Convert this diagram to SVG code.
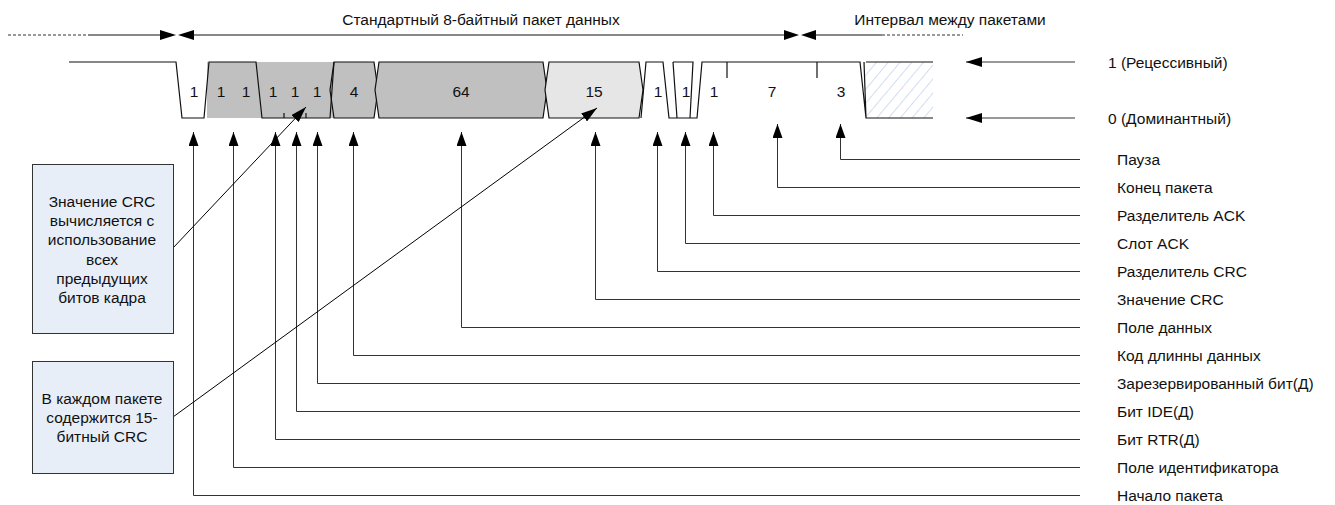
<svg xmlns="http://www.w3.org/2000/svg" width="1335" height="505" viewBox="0 0 1335 505">
<style>
text{font-family:"Liberation Sans",Arial,sans-serif;font-size:15.5px;fill:#111}
.c{text-anchor:middle}
.w{fill:none;stroke:#111;stroke-width:1.2}
.f{stroke:#111;stroke-width:1.2}
.dk{fill:#c0c0c0}
.lt{fill:#e6e6e6}
.conn{fill:none;stroke:#333;stroke-width:1}
.box{fill:#e8eef8;stroke:#333;stroke-width:1}
</style>
<defs>
<marker id="ah" viewBox="0 0 16 10" refX="16" refY="5" markerWidth="16" markerHeight="10" markerUnits="userSpaceOnUse" orient="auto"><path d="M0,0 L16,5 L0,10 z" fill="#000"/></marker>
<marker id="ah2" viewBox="0 0 14 10" refX="14" refY="5" markerWidth="14" markerHeight="10" markerUnits="userSpaceOnUse" orient="auto"><path d="M0,0 L14,5 L0,10 z" fill="#000"/></marker>
<pattern id="hatch" width="9" height="9" patternUnits="userSpaceOnUse" patternTransform="rotate(40)"><line x1="0" y1="0" x2="0" y2="9" stroke="#b4c6e7" stroke-width="1.2"/></pattern>
</defs>

<g id="header">
<line x1="8" y1="35" x2="88" y2="35" stroke="#333" stroke-dasharray="3,2"/>
<line x1="88" y1="35" x2="162" y2="35" stroke="#111"/>
<polygon points="160,30 176,35 160,40" fill="#000"/>
<polygon points="194,30 178,35 194,40" fill="#000"/>
<line x1="192" y1="35" x2="786" y2="35" stroke="#111"/>
<polygon points="784,30 799,35 784,40" fill="#000"/>
<polygon points="816,30 801,35 816,40" fill="#000"/>
<line x1="814" y1="35" x2="882" y2="35" stroke="#111"/>
<line x1="882" y1="35" x2="963" y2="35" stroke="#333" stroke-dasharray="3,2"/>
<text class="c" x="481" y="25">Стандартный 8-байтный пакет данных</text>
<text class="c" x="950" y="25">Интервал между пакетами</text>
</g>

<g id="waveform">
<rect x="207" y="62" width="127" height="56" fill="#c0c0c0"/>
<polygon points="864,62 933,62 933,118 866,118" fill="url(#hatch)"/>
<polygon class="f dk" points="334,62 374,62 378,90 374,118 334,118 330,90"/>
<polygon class="f dk" points="379,62 543,62 547,90 543,118 379,118 375,90"/>
<polygon class="f lt" points="549,62 639,62 643,90 639,118 549,118 545,90"/>
<path class="w" d="M69,62 H176 L182,118 H204 L209,62 H256 L262,118 H330 L334,62"/>
<path class="w" d="M284,118 V113 M306,118 V113"/>
<path class="w" d="M641,118 L646,62 H663 L669,118 H697 L702,62 H860 L866,118 H933 M866,62 H933 M864,62 L866,118"/>
<path class="w" d="M673,62 H693 L690,118 M673,62 L677,118"/>
<path class="w" d="M727,62 V78 M817,62 V78"/>
<text class="c" x="194" y="96.5">1</text>
<text class="c" x="221" y="96.5">1</text>
<text class="c" x="246" y="96.5">1</text>
<text class="c" x="273" y="96.5">1</text>
<text class="c" x="295" y="96.5">1</text>
<text class="c" x="317" y="96.5">1</text>
<text class="c" x="354" y="96.5">4</text>
<text class="c" x="461" y="96.5">64</text>
<text class="c" x="594" y="96.5">15</text>
<text class="c" x="658" y="96.5">1</text>
<text class="c" x="686" y="96.5">1</text>
<text class="c" x="714" y="96.5">1</text>
<text class="c" x="772" y="96.5">7</text>
<text class="c" x="841" y="96.5">3</text>
</g>

<g id="levels">
<line x1="1075" y1="62" x2="966" y2="62" stroke="#333" marker-end="url(#ah)"/>
<line x1="1075" y1="118" x2="966" y2="118" stroke="#333" marker-end="url(#ah)"/>
<text x="1108" y="67.5">1 (Рецессивный)</text>
<text x="1108" y="123.5">0 (Доминантный)</text>
</g>

<g id="connectors">
<path class="conn" d="M1080,159.5 H840.5 V124" marker-end="url(#ah2)"/>
<path class="conn" d="M1080,187.5 H777.5 V124" marker-end="url(#ah2)"/>
<path class="conn" d="M1080,215.5 H713.5 V132" marker-end="url(#ah2)"/>
<path class="conn" d="M1080,243.5 H685.5 V132" marker-end="url(#ah2)"/>
<path class="conn" d="M1080,271.5 H657.5 V132" marker-end="url(#ah2)"/>
<path class="conn" d="M1080,299.5 H595.5 V132" marker-end="url(#ah2)"/>
<path class="conn" d="M1080,327.5 H461.5 V132" marker-end="url(#ah2)"/>
<path class="conn" d="M1080,355.5 H353.5 V132" marker-end="url(#ah2)"/>
<path class="conn" d="M1080,383.5 H317.5 V132" marker-end="url(#ah2)"/>
<path class="conn" d="M1080,411.5 H296.5 V132" marker-end="url(#ah2)"/>
<path class="conn" d="M1080,439.5 H275.5 V132" marker-end="url(#ah2)"/>
<path class="conn" d="M1080,467.5 H233.5 V132" marker-end="url(#ah2)"/>
<path class="conn" d="M1080,495.5 H193.5 V132" marker-end="url(#ah2)"/>
<line x1="173" y1="248" x2="306" y2="107" stroke="#000" marker-end="url(#ah)"/>
<line x1="173" y1="417" x2="597" y2="108" stroke="#000" marker-end="url(#ah)"/>
</g>

<g id="labels">
<text x="1117" y="165">Пауза</text>
<text x="1117" y="193">Конец пакета</text>
<text x="1117" y="221">Разделитель ACK</text>
<text x="1117" y="249">Слот ACK</text>
<text x="1117" y="277">Разделитель CRC</text>
<text x="1117" y="305">Значение CRC</text>
<text x="1117" y="333">Поле данных</text>
<text x="1117" y="361">Код длинны данных</text>
<text x="1117" y="389">Зарезервированный бит(Д)</text>
<text x="1117" y="417">Бит IDE(Д)</text>
<text x="1117" y="445">Бит RTR(Д)</text>
<text x="1117" y="473">Поле идентификатора</text>
<text x="1117" y="501">Начало пакета</text>
</g>

<g id="note-crc-calc">
<rect class="box" x="32.5" y="164.5" width="141" height="169"/>
<text class="c" x="102" y="206.5">Значение CRC</text>
<text class="c" x="102" y="226">вычисляется с</text>
<text class="c" x="102" y="245">использование</text>
<text class="c" x="102" y="264.5">всех</text>
<text class="c" x="102" y="283.5">предыдущих</text>
<text class="c" x="102" y="303">битов кадра</text>
</g>

<g id="note-crc15">
<rect class="box" x="32.5" y="361.5" width="141" height="112"/>
<text class="c" x="102" y="403.5">В каждом пакете</text>
<text class="c" x="102" y="422.5">содержится 15-</text>
<text class="c" x="102" y="441.5">битный CRC</text>
</g>
</svg>
